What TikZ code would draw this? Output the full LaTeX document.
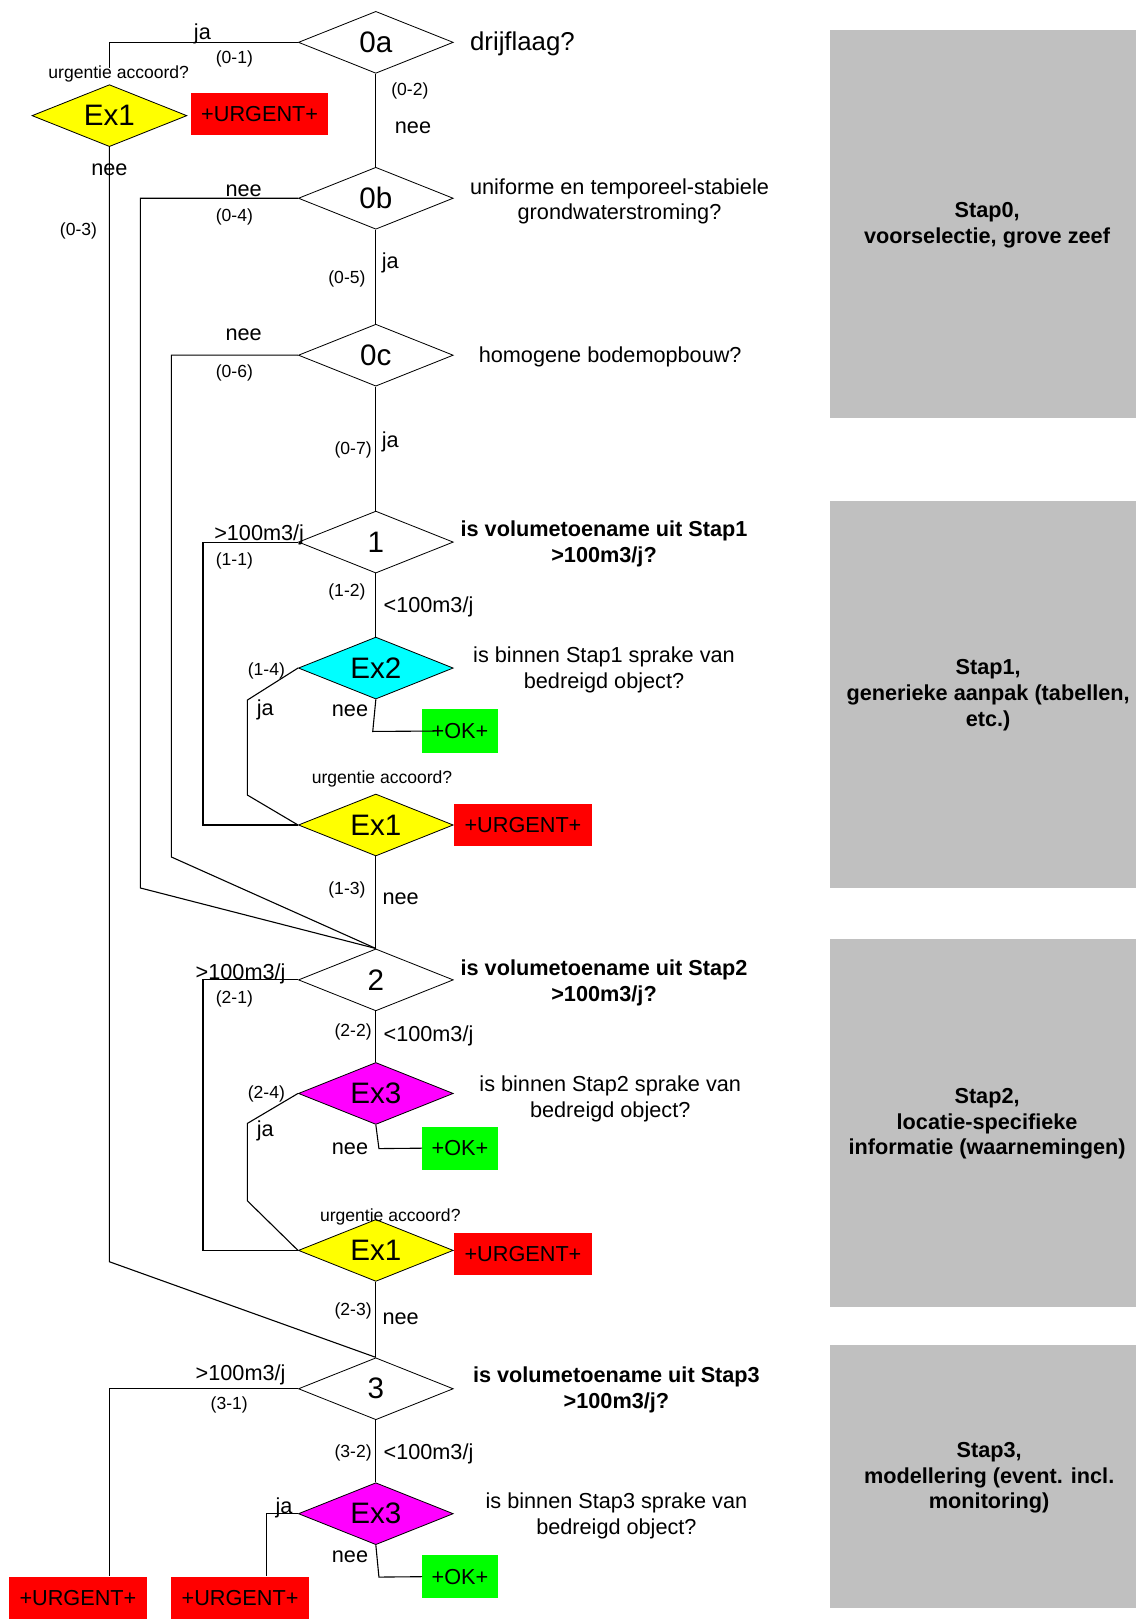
\documentclass[tikz,border=0pt]{standalone}
\usepackage{fontspec}
\setmainfont{Liberation Sans}
\usetikzlibrary{shapes.geometric}
\definecolor{stapgray}{HTML}{C0C0C0}
\definecolor{exyellow}{HTML}{FFFF00}
\definecolor{excyan}{HTML}{00FFFF}
\definecolor{exmagenta}{HTML}{FF00FF}
\definecolor{urgred}{HTML}{FF0000}
\definecolor{okgreen}{HTML}{00FF00}
\begin{document}
\begin{tikzpicture}[x=0.75pt,y=-0.75pt,
  dia/.style={diamond, draw, line width=0.6pt, minimum width=112.5pt, minimum height=45pt, inner sep=0pt, shape aspect=2.5, font=\fontsize{21.5}{24}\selectfont},
  lab/.style={font=\fontsize{15.75}{18.75}\selectfont, inner sep=0pt, yshift=-1.5pt},
  sml/.style={font=\fontsize{12.75}{15}\selectfont, inner sep=0pt, yshift=-1.5pt},
  qtext/.style={font=\fontsize{15.75}{18.75}\selectfont, align=center, inner sep=0pt, yshift=-1.5pt},
  qbold/.style={font=\fontsize{15.75}{18.75}\selectfont\bfseries, align=center, inner sep=0pt, yshift=-1.5pt},
  urg/.style={fill=urgred, minimum width=99.75pt, minimum height=30.75pt, inner sep=0pt, font=\fontsize{15.75}{18.75}\selectfont},
  okbox/.style={fill=okgreen, minimum width=54.75pt, minimum height=31.5pt, inner sep=0pt, font=\fontsize{15.75}{18.75}\selectfont},
  stapbox/.style={fill=stapgray, minimum width=222pt, inner sep=0pt},
  staptext/.style={align=center, inner sep=0pt, font=\fontsize{15.75}{18.75}\selectfont\bfseries, yshift=-1pt},
  conn/.style={line width=0.8pt}
]
\useasboundingbox (0,0) rectangle (1100,1568);

% grey step panels
\node[stapbox, minimum height=282pt] (s0box) at (952,217) {};
\node[stapbox, minimum height=281.25pt] (s1box) at (952,672.5) {};
\node[stapbox, minimum height=267.75pt] (s2box) at (952,1087.5) {};
\node[stapbox, minimum height=190.5pt] (s3box) at (952,1430) {};
\node[staptext] (s0) at (956,217) {Stap0,\\voorselectie, grove zeef};
\node[staptext] (s1) at (957,672) {Stap1,\\generieke aanpak (tabellen,\\etc.)};
\node[staptext] (s2) at (956,1087) {Stap2,\\locatie-specifieke\\informatie (waarnemingen)};
\node[staptext] (s3) at (958,1430) {Stap3,\\modellering (event. incl.\\monitoring)};

% decision diamonds
\node[dia] (d0a) at (364,41) {0a};
\node[dia, fill=exyellow] (e1a) at (106,112) {Ex1};
\node[dia] (d0b) at (364,192) {0b};
\node[dia] (d0c) at (364,344) {0c};
\node[dia] (d1) at (364,525) {1};
\node[dia, fill=excyan] (e2) at (364,647) {Ex2};
\node[dia, fill=exyellow] (e1b) at (364,799) {Ex1};
\node[dia] (d2) at (364,949) {2};
\node[dia, fill=exmagenta] (e3) at (364,1059) {Ex3};
\node[dia, fill=exyellow] (e1c) at (364,1211) {Ex1};
\node[dia] (d3) at (364,1345) {3};
\node[dia, fill=exmagenta] (e3b) at (364,1466) {Ex3};

% outcome boxes
\node[urg] (u1) at (251.5,110.5) {+URGENT+};
\node[urg] (u2) at (506.5,799) {+URGENT+};
\node[urg] (u3) at (506.5,1214.5) {+URGENT+};
\node[urg] (u4) at (75.5,1547.5) {+URGENT+};
\node[urg] (u5) at (232.5,1547.5) {+URGENT+};
\node[okbox] (ok1) at (445.5,708) {+OK+};
\node[okbox] (ok2) at (445.5,1112) {+OK+};
\node[okbox] (ok3) at (445.5,1527) {+OK+};

% connectors
\coordinate (c0) at (106,66);
\coordinate (c1) at (106,1222);
\coordinate (c2) at (136,860);
\coordinate (c3) at (166,830);
\draw[conn] (d0a.west) -| (c0);
\draw[conn] (d0a.south) -- (d0b.north);
\draw[conn] (e1a.south) -- (c1) -- (d3.north);
\draw[conn] (d0b.west) -| (c2) -- (d2.north);
\draw[conn] (d0b.south) -- (d0c.north);
\draw[conn] (d0c.west) -| (c3) -- (d2.north);
\draw[conn] (d0c.south) -- (d1.north);
\draw[conn] (d1.west) -- ++(-92,0) |- (e1b.west);
\draw[conn] (d1.south) -- (e2.north);
\draw[conn] (e2.west) -- ++(-49,31) -- ++(0,92) -- (e1b.west);
\draw[conn] (e2.south) -- ++(-3,31) -- ([xshift=9pt]ok1.west);
\draw[conn] (e1b.south) -- (d2.north);
\draw[conn] (d2.west) -- ++(-92,0) |- (e1c.west);
\draw[conn] (d2.south) -- (e3.north);
\draw[conn] (e3.west) -- ++(-49,29) -- ++(0,75) -- (e1c.west);
\draw[conn] (e3.south) -- ++(3,23) -- (ok2.west);
\draw[conn] (e1c.south) -- (d3.north);
\draw[conn] (d3.west) -| ([xshift=-27pt]u4.north east);
\draw[conn] (d3.south) -- (e3b.north);
\draw[conn] (e3b.west) -| ([xshift=19pt]u5.north);
\draw[conn] (e3b.south) -- ++(3,31) -- (ok3.west);

% question texts
\node[anchor=west, inner sep=0pt, font=\fontsize{18.75}{22}\selectfont, yshift=-1pt] (t0a) at (455,41) {drijflaag?};
\node[qtext] (t0b) at (600,193) {uniforme en temporeel-stabiele\\grondwaterstroming?};
\node[qtext] (t0c) at (591,344) {homogene bodemopbouw?};
\node[qbold] (t1) at (585,525) {is volumetoename uit Stap1\\>100m3/j?};
\node[qtext] (tx2) at (585,647) {is binnen Stap1 sprake van\\bedreigd object?};
\node[qbold] (t2) at (585,950) {is volumetoename uit Stap2\\>100m3/j?};
\node[qtext] (tx3) at (591,1062) {is binnen Stap2 sprake van\\bedreigd object?};
\node[qbold] (t3) at (597,1344) {is volumetoename uit Stap3\\>100m3/j?};
\node[qtext] (tx3b) at (597,1466) {is binnen Stap3 sprake van\\bedreigd object?};

% edge labels
\node[lab] (l1) at (196,31) {ja};
\node[sml] (l2) at (227,55) {(0-1)};
\node[sml] (l3) at (115,70) {urgentie accoord?};
\node[sml] (l4) at (397,86) {(0-2)};
\node[lab] (l5) at (400,122) {nee};
\node[lab] (l6) at (106,162) {nee};
\node[sml] (l7) at (76,222) {(0-3)};
\node[lab] (l8) at (236,183) {nee};
\node[sml] (l9) at (227,208) {(0-4)};
\node[lab] (l10) at (378,253) {ja};
\node[sml] (l11) at (336,268) {(0-5)};
\node[lab] (l12) at (236,322) {nee};
\node[sml] (l13) at (227,359) {(0-6)};
\node[lab] (l14) at (378,426) {ja};
\node[sml] (l15) at (342,434) {(0-7)};
\node[lab] (l16) at (251,516) {>100m3/j};
\node[sml] (l17) at (227,541) {(1-1)};
\node[sml] (l18) at (336,571) {(1-2)};
\node[lab] (l19) at (415,586) {<100m3/j};
\node[sml] (l20) at (258,648) {(1-4)};
\node[lab] (l21) at (257,686) {ja};
\node[lab] (l22) at (339,686) {nee};
\node[sml] (l23) at (370,752) {urgentie accoord?};
\node[sml] (l24) at (336,860) {(1-3)};
\node[lab] (l25) at (388,868) {nee};
\node[lab] (l26) at (233,941) {>100m3/j};
\node[sml] (l27) at (227,965) {(2-1)};
\node[sml] (l28) at (342,997) {(2-2)};
\node[lab] (l29) at (415,1001) {<100m3/j};
\node[sml] (l30) at (258,1057) {(2-4)};
\node[lab] (l31) at (257,1093) {ja};
\node[lab] (l32) at (339,1111) {nee};
\node[sml] (l33) at (378,1177) {urgentie accoord?};
\node[sml] (l34) at (342,1268) {(2-3)};
\node[lab] (l35) at (388,1275) {nee};
\node[lab] (l36) at (233,1330) {>100m3/j};
\node[sml] (l37) at (222,1359) {(3-1)};
\node[sml] (l38) at (342,1405) {(3-2)};
\node[lab] (l39) at (415,1406) {<100m3/j};
\node[lab] (l40) at (275,1458) {ja};
\node[lab] (l41) at (339,1506) {nee};
\end{tikzpicture}
\end{document}
